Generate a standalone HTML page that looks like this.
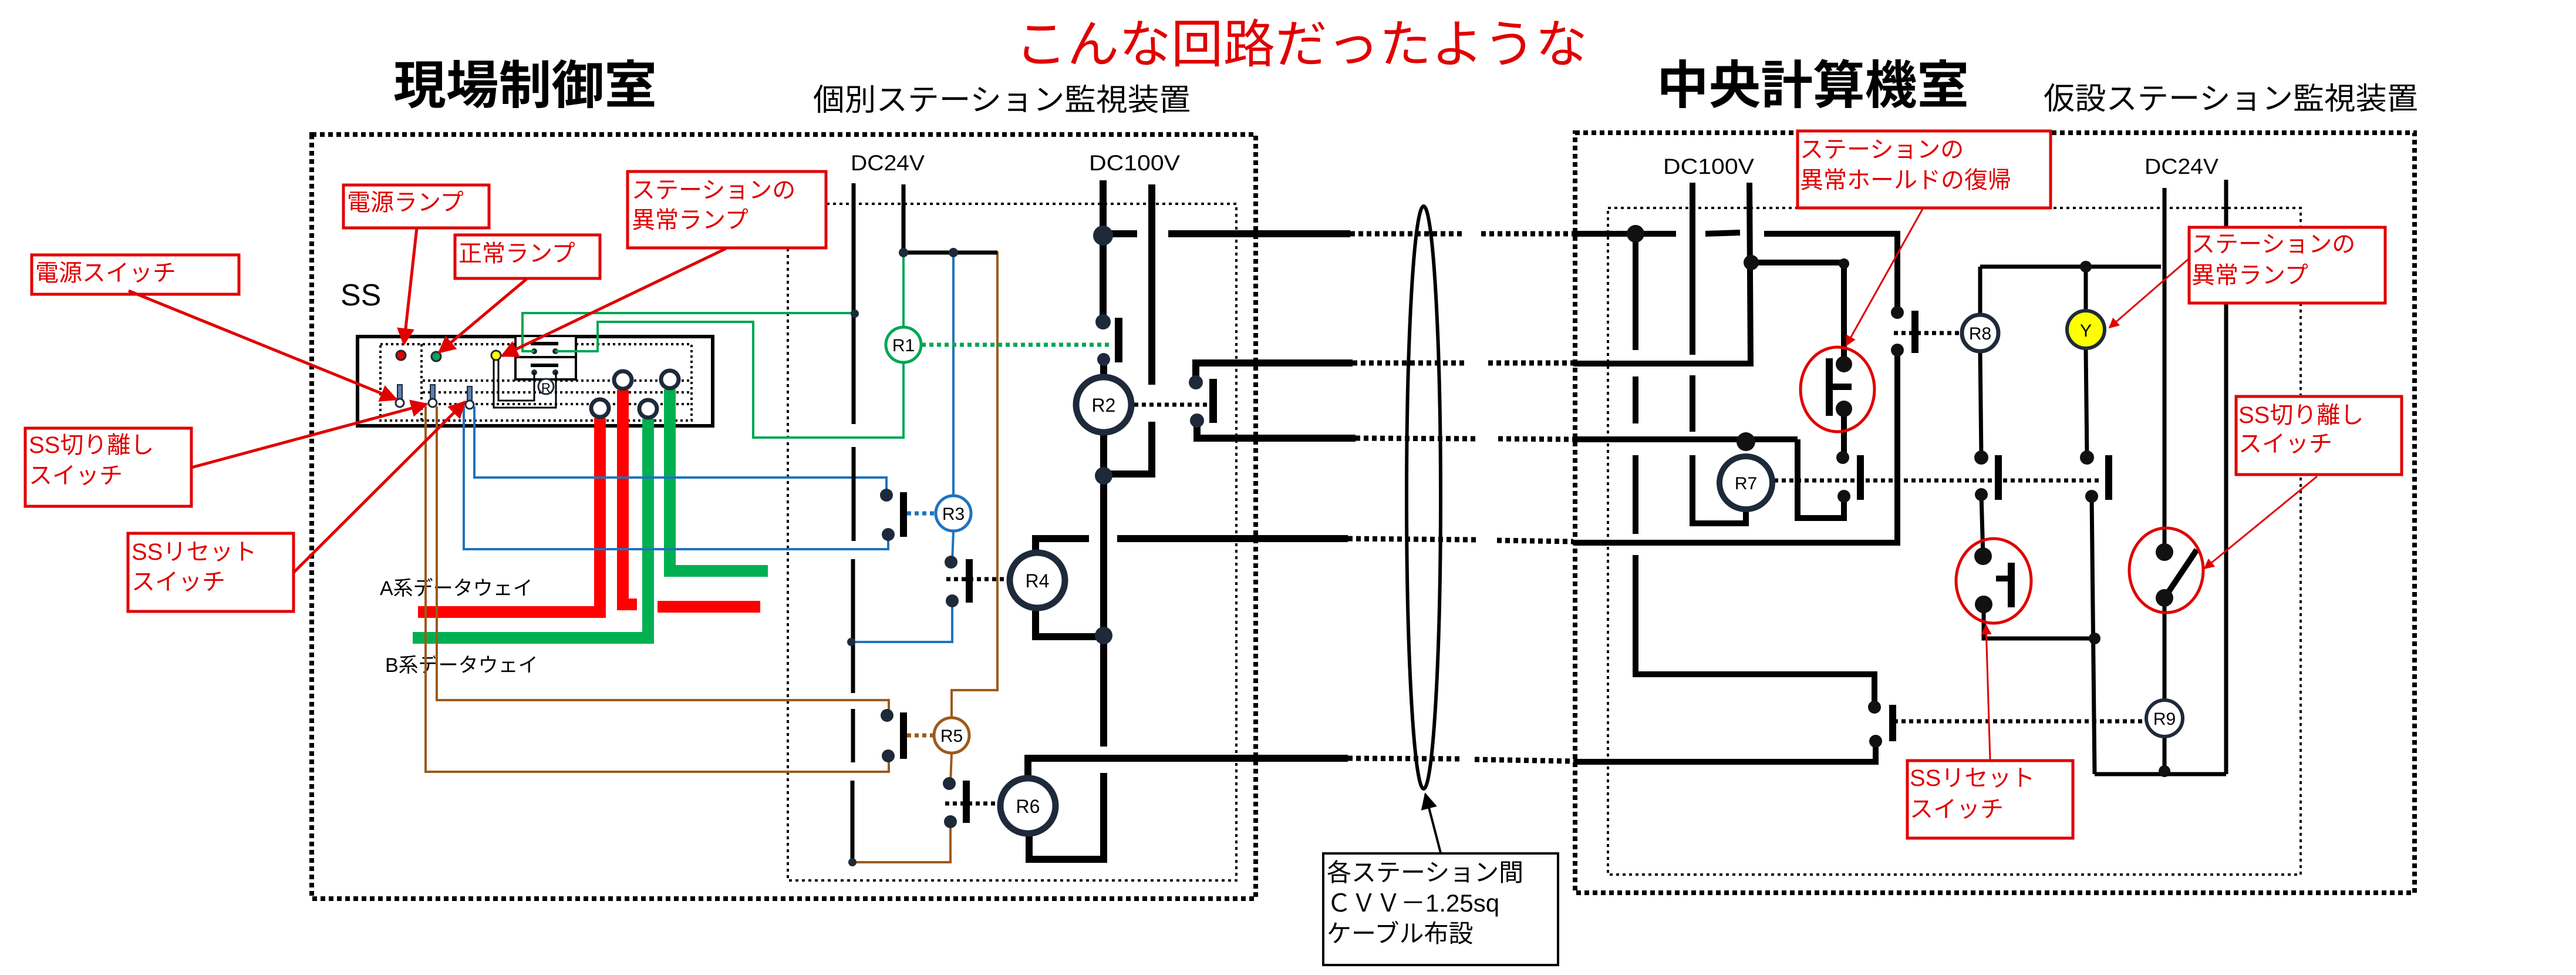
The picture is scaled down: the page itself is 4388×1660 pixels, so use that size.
<!DOCTYPE html>
<html><head><meta charset="utf-8"><style>
html,body{margin:0;padding:0;background:#fff}
svg{display:block}
text{font-family:"Liberation Sans","Noto Sans CJK JP",sans-serif}
</style></head><body>
<svg width="4388" height="1660" viewBox="0 0 4388 1660" xmlns="http://www.w3.org/2000/svg">
<defs>
<marker id="ar" viewBox="0 0 10 10" refX="9" refY="5" markerWidth="6" markerHeight="6" markerUnits="strokeWidth" orient="auto"><path d="M0,0L10,5L0,10z" fill="#e00000"/></marker>
<marker id="ak" viewBox="0 0 10 10" refX="9" refY="5" markerWidth="7" markerHeight="7" markerUnits="strokeWidth" orient="auto"><path d="M0,0L10,5L0,10z" fill="#000"/></marker>
</defs>
<rect width="4388" height="1660" fill="#fff"/>

<!-- Titles -->
<text x="1729" y="106" font-size="88" fill="#e00000" textLength="975" lengthAdjust="spacingAndGlyphs">こんな回路だったような</text>
<text x="670" y="176" font-size="88" font-weight="bold" textLength="449" lengthAdjust="spacingAndGlyphs">現場制御室</text>
<text x="1385" y="188" font-size="52" textLength="643" lengthAdjust="spacingAndGlyphs">個別ステーション監視装置</text>
<text x="2822" y="176" font-size="88" font-weight="bold" textLength="532" lengthAdjust="spacingAndGlyphs">中央計算機室</text>
<text x="3481" y="186" font-size="52" textLength="638" lengthAdjust="spacingAndGlyphs">仮設ステーション監視装置</text>

<!-- Boxes -->
<g fill="none" stroke="#000">
<rect x="531" y="229" width="1608" height="1301" stroke-width="8" stroke-dasharray="8 6"/>
<rect x="2683" y="226" width="1430" height="1294" stroke-width="8" stroke-dasharray="8 6"/>
<rect x="1342" y="347" width="764" height="1152" stroke-width="4" stroke-dasharray="5 6"/>
<rect x="2739" y="354" width="1180" height="1135" stroke-width="4" stroke-dasharray="5 6"/>
</g>

<!-- SS panel -->
<text x="580" y="520" font-size="52">SS</text>
<rect x="609" y="573" width="605" height="152" fill="none" stroke="#000" stroke-width="6"/>
<g fill="none" stroke="#000" stroke-width="4" stroke-dasharray="4 5">
<rect x="648" y="586" width="530" height="130"/>
<line x1="718" y1="586" x2="718" y2="716"/>
<line x1="720" y1="648" x2="1178" y2="648"/>
<line x1="720" y1="668" x2="1178" y2="668"/>
<line x1="720" y1="688" x2="1178" y2="688"/>
</g>
<circle cx="683" cy="605" r="8" fill="#e00000" stroke="#1e2a3a" stroke-width="3"/>
<circle cx="743" cy="607" r="8" fill="#00a651" stroke="#1e2a3a" stroke-width="3"/>
<circle cx="845" cy="605" r="8" fill="#ffff00" stroke="#1e2a3a" stroke-width="3"/>
<g fill="#5b7fb0" stroke="#1e2a3a" stroke-width="2">
<rect x="677" y="655" width="8" height="28"/><circle cx="681" cy="686" r="7" fill="#fff" stroke-width="3"/>
<rect x="733" y="655" width="8" height="28"/><circle cx="737" cy="686" r="7" fill="#fff" stroke-width="3"/>
<rect x="796" y="658" width="8" height="28"/><circle cx="800" cy="689" r="7" fill="#fff" stroke-width="3"/>
</g>
<rect x="878" y="572" width="103" height="74" fill="#fff" stroke="#000" stroke-width="4"/>
<line x1="878" y1="608" x2="981" y2="608" stroke="#000" stroke-width="4"/>
<rect x="904" y="582" width="47" height="6" fill="#000"/>
<rect x="904" y="619" width="47" height="6" fill="#000"/>
<g fill="#1e2a3a"><circle cx="910" cy="598" r="5"/><circle cx="946" cy="598" r="5"/><circle cx="910" cy="634" r="5"/><circle cx="946" cy="634" r="5"/></g>
<polyline points="841,612 841,694 947,694 947,634" fill="none" stroke="#000" stroke-width="3"/>
<polyline points="849,612 849,682 910,682 910,634" fill="none" stroke="#000" stroke-width="3"/>
<circle cx="930" cy="658" r="13" fill="#fff" stroke="#1e2a3a" stroke-width="3"/>
<text x="930" y="668" font-size="22" text-anchor="middle">R</text>

<!-- data way lines -->
<g fill="none" stroke-width="20" stroke-linejoin="miter">
<polyline points="1022,712 1022,1042 712,1042" stroke="#ff0000"/>
<polyline points="1061,664 1061,1029 1085,1029" stroke="#ff0000"/>
<line x1="1120" y1="1033" x2="1295" y2="1033" stroke="#ff0000"/>
<polyline points="1104,713 1104,1086 703,1086" stroke="#00b050"/>
<polyline points="1141,663 1141,972 1308,972" stroke="#00b050"/>
</g>
<g fill="#fff" stroke="#1e2a3a" stroke-width="7">
<circle cx="1022" cy="695" r="15"/><circle cx="1061" cy="647" r="15"/>
<circle cx="1104" cy="696" r="15"/><circle cx="1141" cy="646" r="15"/>
</g>
<text x="647" y="1013" font-size="34">A系データウェイ</text>
<text x="656" y="1144" font-size="34">B系データウェイ</text>

<!-- thin colored wires -->
<g fill="none" stroke-width="4">
<polyline points="910,598 890,598 890,533 1456,533" stroke="#00a651"/>
<polyline points="946,598 1018,598 1018,548 1283,548 1283,745 1539,745 1539,618" stroke="#00a651"/>
<line x1="1539" y1="430" x2="1539" y2="556" stroke="#00a651"/>
<polyline points="808,692 808,813 1510,813 1510,843" stroke="#1e73be"/>
<polyline points="790,692 790,935 1513,935 1513,910" stroke="#1e73be"/>
<line x1="1624" y1="430" x2="1624" y2="843" stroke="#1e73be"/>
<line x1="1624" y1="905" x2="1622" y2="957" stroke="#1e73be"/>
<polyline points="1622,1023 1622,1093 1450,1093" stroke="#1e73be"/>
<polyline points="725,692 725,1314 1514,1314 1514,1287" stroke="#9c5a1c"/>
<polyline points="744,692 744,1192 1514,1192 1514,1218" stroke="#9c5a1c"/>
<polyline points="1697,430 1699,430 1699,1175 1621,1175 1621,1221" stroke="#9c5a1c"/>
<line x1="1621" y1="1283" x2="1619" y2="1334" stroke="#9c5a1c"/>
<polyline points="1619,1399 1619,1468 1452,1468" stroke="#9c5a1c"/>
</g>
<g fill="none" stroke-width="7" stroke-dasharray="7 6">
<line x1="1570" y1="587" x2="1894" y2="587" stroke="#00a651"/>
<line x1="1545" y1="874" x2="1593" y2="874" stroke="#1e73be"/>
<line x1="1545" y1="1252" x2="1590" y2="1252" stroke="#9c5a1c"/>
<line x1="1612" y1="986" x2="1712" y2="986" stroke="#000"/>
<line x1="1610" y1="1368" x2="1698" y2="1368" stroke="#000"/>
<line x1="1932" y1="689" x2="2059" y2="689" stroke="#000"/>
</g>

<!-- DC24V left -->
<text x="1449" y="290" font-size="37" textLength="126" lengthAdjust="spacingAndGlyphs">DC24V</text>
<text x="1855" y="290" font-size="37" textLength="155" lengthAdjust="spacingAndGlyphs">DC100V</text>
<g stroke="#000" stroke-width="7" fill="none">
<line x1="1454" y1="312" x2="1454" y2="722"/><line x1="1454" y1="761" x2="1454" y2="921"/>
<line x1="1453" y1="952" x2="1453" y2="1180"/><line x1="1453" y1="1207" x2="1453" y2="1298"/>
<line x1="1452" y1="1329" x2="1452" y2="1468"/>
<line x1="1539" y1="314" x2="1539" y2="430"/>
<line x1="1539" y1="430" x2="1699" y2="430"/>
</g>
<g fill="#1e2a3a">
<circle cx="1456" cy="534" r="7"/><circle cx="1450" cy="1093" r="7"/><circle cx="1452" cy="1468" r="7"/>
<circle cx="1539" cy="430" r="8"/><circle cx="1624" cy="430" r="8"/>
<circle cx="1510" cy="843" r="11"/><circle cx="1513" cy="910" r="11"/>
<circle cx="1620" cy="957" r="11"/><circle cx="1622" cy="1023" r="11"/>
<circle cx="1511" cy="1218" r="11"/><circle cx="1513" cy="1287" r="11"/>
<circle cx="1617" cy="1334" r="11"/><circle cx="1619" cy="1399" r="11"/>
</g>
<g fill="#000">
<rect x="1533" y="838" width="12" height="76"/>
<rect x="1645" y="952" width="12" height="74"/>
<rect x="1533" y="1213" width="12" height="79"/>
<rect x="1640" y="1329" width="12" height="72"/>
</g>
<!-- R1 R3 R5 -->
<g fill="#fff" stroke-width="5">
<circle cx="1539" cy="587" r="30" stroke="#00a651"/>
<circle cx="1624" cy="874" r="30" stroke="#1e73be"/>
<circle cx="1621" cy="1252" r="30" stroke="#9c5a1c"/>
</g>
<g font-size="30" text-anchor="middle">
<text x="1539" y="598">R1</text><text x="1624" y="885">R3</text><text x="1621" y="1263">R5</text>
</g>

<!-- DC100V left -->
<g stroke="#000" stroke-width="12" fill="none">
<line x1="1879" y1="307" x2="1879" y2="548"/>
<line x1="1879" y1="398" x2="1937" y2="398"/>
<line x1="1880" y1="612" x2="1880" y2="640"/>
<line x1="1880" y1="738" x2="1880" y2="1271"/>
<line x1="1962" y1="314" x2="1962" y2="655"/>
<polyline points="1962,718 1962,807 1880,807"/>
<line x1="1990" y1="398" x2="2300" y2="398"/>
<polyline points="2037,651 2037,618 2304,618"/>
<polyline points="2039,716 2039,746 2309,746"/>
<polyline points="1764,938 1764,917 1855,917"/>
<line x1="1903" y1="917" x2="2296" y2="917"/>
<polyline points="1764,1036 1764,1084 1876,1084"/>
<polyline points="1751,1324 1751,1291 2296,1291"/>
<polyline points="1753,1420 1753,1463 1880,1463 1880,1316"/>
</g>
<g fill="#000">
<rect x="1899" y="541" width="13" height="76"/>
<rect x="2060" y="645" width="13" height="75"/>
</g>
<g fill="#1e2a3a">
<circle cx="1879" cy="401" r="17"/><circle cx="1879" cy="548" r="13"/><circle cx="1880" cy="612" r="11"/>
<circle cx="1880" cy="810" r="15"/><circle cx="1880" cy="1082" r="15"/>
<circle cx="2037" cy="651" r="12"/><circle cx="2039" cy="716" r="12"/>
</g>
<g fill="#fff" stroke="#1e2a3a" stroke-width="11">
<circle cx="1880" cy="689" r="47"/><circle cx="1767" cy="988" r="47"/><circle cx="1751" cy="1372" r="47"/>
</g>
<g font-size="32" text-anchor="middle">
<text x="1880" y="701">R2</text><text x="1767" y="1000">R4</text><text x="1751" y="1384">R6</text>
</g>

<!-- cable crossings -->
<g stroke="#000" stroke-width="9" stroke-dasharray="8 6" fill="none">
<line x1="2300" y1="398" x2="2490" y2="398"/><line x1="2523" y1="398" x2="2680" y2="398"/>
<line x1="2304" y1="618" x2="2500" y2="618"/><line x1="2535" y1="618" x2="2680" y2="618"/>
<line x1="2309" y1="746" x2="2516" y2="747"/><line x1="2552" y1="747" x2="2680" y2="748"/>
<line x1="2296" y1="917" x2="2516" y2="919"/><line x1="2550" y1="920" x2="2680" y2="922"/>
<line x1="2296" y1="1291" x2="2486" y2="1292"/><line x1="2512" y1="1293" x2="2680" y2="1296"/>
</g>
<ellipse cx="2425" cy="847" rx="29" ry="496" fill="none" stroke="#000" stroke-width="6"/>
<line x1="2454" y1="1452" x2="2428" y2="1352" stroke="#000" stroke-width="4" marker-end="url(#ak)"/>
<rect x="2254" y="1453" width="400" height="190" fill="#fff" stroke="#000" stroke-width="4"/>
<g font-size="42">
<text x="2260" y="1500">各ステーション間</text>
<text x="2260" y="1552">ＣＶＶ－1.25sq</text>
<text x="2260" y="1604">ケーブル布設</text>
</g>

<!-- Right panel -->
<text x="2833" y="296" font-size="37" textLength="155" lengthAdjust="spacingAndGlyphs">DC100V</text>
<text x="3653" y="296" font-size="37" textLength="126" lengthAdjust="spacingAndGlyphs">DC24V</text>
<g stroke="#000" stroke-width="10" fill="none">
<line x1="2680" y1="398" x2="2855" y2="398"/><line x1="2905" y1="398" x2="2964" y2="396"/>
<polyline points="3005,398 3232,398 3232,532"/>
<line x1="2786" y1="398" x2="2786" y2="596"/><line x1="2786" y1="641" x2="2786" y2="721"/>
<line x1="2786" y1="775" x2="2786" y2="909"/>
<polyline points="2786,945 2786,1148 3193,1148 3193,1204"/>
<line x1="2883" y1="311" x2="2883" y2="604"/><line x1="2883" y1="639" x2="2883" y2="735"/>
<polyline points="2883,775 2883,891 2974,891 2974,867"/>
<polyline points="2980,311 2982,619 2680,619"/>
<polyline points="2983,447 3141,447 3141,620"/>
<line x1="3141" y1="696" x2="3141" y2="779"/>
<line x1="2680" y1="748" x2="3062" y2="748"/>
<polyline points="3062,748 3062,882 3141,882 3141,845"/>
<polyline points="3232,596 3232,924 2680,924"/>
<polyline points="3195,1262 3195,1297 2680,1297"/>
</g>
<g stroke="#000" stroke-width="7" fill="none">
<line x1="3373" y1="454" x2="3681" y2="454"/>
<line x1="3373" y1="454" x2="3373" y2="535"/>
<line x1="3373" y1="599" x2="3375" y2="779"/>
<line x1="3375" y1="842" x2="3378" y2="947"/>
<polyline points="3379,1029 3379,1087 3568,1087"/>
<line x1="3553" y1="454" x2="3553" y2="528"/>
<line x1="3553" y1="594" x2="3555" y2="779"/>
<line x1="3563" y1="845" x2="3568" y2="1318"/>
<line x1="3687" y1="320" x2="3687" y2="940"/>
<line x1="3687" y1="1018" x2="3687" y2="1191"/>
<line x1="3687" y1="1255" x2="3687" y2="1313"/>
<line x1="3792" y1="306" x2="3792" y2="1318"/>
<line x1="3568" y1="1318" x2="3792" y2="1318"/>
</g>
<line x1="3687" y1="1018" x2="3742" y2="936" stroke="#000" stroke-width="10"/>
<g stroke="#000" stroke-width="7" stroke-dasharray="7 6" fill="none">
<line x1="3022" y1="818" x2="3581" y2="818"/>
<line x1="3226" y1="567" x2="3341" y2="567"/>
<line x1="3226" y1="1228" x2="3655" y2="1228"/>
</g>
<g fill="#000">
<rect x="3110" y="610" width="12" height="98"/>
<rect x="3116" y="653" width="38" height="11"/>
<rect x="3163" y="775" width="12" height="76"/>
<rect x="3256" y="529" width="12" height="72"/>
<rect x="3398" y="775" width="12" height="76"/>
<rect x="3420" y="958" width="12" height="76"/>
<rect x="3400" y="980" width="24" height="10"/>
<rect x="3586" y="775" width="12" height="76"/>
<rect x="3218" y="1200" width="12" height="62"/>
</g>
<g fill="#111">
<circle cx="2786" cy="398" r="15"/><circle cx="2983" cy="447" r="13"/><circle cx="3141" cy="449" r="9"/>
<circle cx="3141" cy="620" r="14"/><circle cx="3141" cy="696" r="14"/>
<circle cx="3139" cy="779" r="11"/><circle cx="3141" cy="845" r="11"/>
<circle cx="2974" cy="752" r="16"/>
<circle cx="3232" cy="532" r="11"/><circle cx="3232" cy="596" r="11"/>
<circle cx="3553" cy="454" r="10"/>
<circle cx="3375" cy="779" r="12"/><circle cx="3375" cy="842" r="11"/>
<circle cx="3378" cy="947" r="15"/><circle cx="3379" cy="1029" r="15"/>
<circle cx="3555" cy="779" r="12"/><circle cx="3563" cy="845" r="11"/>
<circle cx="3568" cy="1087" r="10"/>
<circle cx="3687" cy="940" r="15"/><circle cx="3687" cy="1018" r="15"/>
<circle cx="3687" cy="1313" r="10"/>
<circle cx="3193" cy="1204" r="11"/><circle cx="3195" cy="1262" r="11"/>
</g>
<circle cx="2974" cy="822" r="45" fill="#fff" stroke="#1e2a3a" stroke-width="10"/>
<circle cx="3373" cy="567" r="31" fill="#fff" stroke="#1e2a3a" stroke-width="7"/>
<circle cx="3553" cy="561" r="32" fill="#ffff00" stroke="#1e2a3a" stroke-width="6"/>
<circle cx="3687" cy="1223" r="31" fill="#fff" stroke="#1e2a3a" stroke-width="6"/>
<g font-size="30" text-anchor="middle">
<text x="2974" y="833">R7</text><text x="3373" y="578">R8</text><text x="3553" y="573">Y</text><text x="3687" y="1234">R9</text>
</g>
<g fill="none" stroke="#e00000" stroke-width="5">
<ellipse cx="3130" cy="663" rx="63" ry="72"/>
<ellipse cx="3396" cy="989" rx="64" ry="72"/>
<ellipse cx="3690" cy="971" rx="63" ry="72"/>
</g>

<!-- Red labels -->
<g fill="#fff" stroke="#e00000" stroke-width="5">
<rect x="585" y="315" width="248" height="73"/>
<rect x="775" y="400" width="247" height="74"/>
<rect x="1069" y="292" width="338" height="130"/>
<rect x="54" y="434" width="353" height="67"/>
<rect x="43" y="729" width="283" height="133"/>
<rect x="218" y="908" width="282" height="133"/>
<rect x="3062" y="223" width="431" height="131"/>
<rect x="3729" y="387" width="334" height="129"/>
<rect x="3809" y="675" width="282" height="133"/>
<rect x="3249" y="1295" width="282" height="132"/>
</g>
<g fill="#e00000" font-size="40">
<text x="591" y="358">電源ランプ</text>
<text x="781" y="445">正常ランプ</text>
<text x="1076" y="337">ステーションの</text><text x="1076" y="388">異常ランプ</text>
<text x="60" y="478">電源スイッチ</text>
<text x="49" y="771">SS切り離し</text><text x="49" y="823">スイッチ</text>
<text x="224" y="953">SSリセット</text><text x="224" y="1004">スイッチ</text>
<text x="3066" y="268">ステーションの</text><text x="3066" y="320">異常ホールドの復帰</text>
<text x="3733" y="429">ステーションの</text><text x="3733" y="482">異常ランプ</text>
<text x="3813" y="720">SS切り離し</text><text x="3813" y="769">スイッチ</text>
<text x="3253" y="1338">SSリセット</text><text x="3253" y="1391">スイッチ</text>
</g>
<g stroke="#e00000" stroke-width="5" fill="none" marker-end="url(#ar)">
<line x1="710" y1="388" x2="688" y2="586"/>
<line x1="897" y1="475" x2="748" y2="600"/>
<line x1="1237" y1="423" x2="855" y2="606"/>
<line x1="219" y1="495" x2="675" y2="680"/>
<line x1="326" y1="796" x2="727" y2="688"/>
<line x1="500" y1="975" x2="792" y2="684"/>
<line x1="3276" y1="354" x2="3145" y2="588" stroke-width="3"/>
<line x1="3729" y1="440" x2="3593" y2="558" stroke-width="3"/>
<line x1="3947" y1="811" x2="3755" y2="968" stroke-width="3"/>
<line x1="3390" y1="1295" x2="3383" y2="1064" stroke-width="3"/>
</g>
</svg>
</body></html>
